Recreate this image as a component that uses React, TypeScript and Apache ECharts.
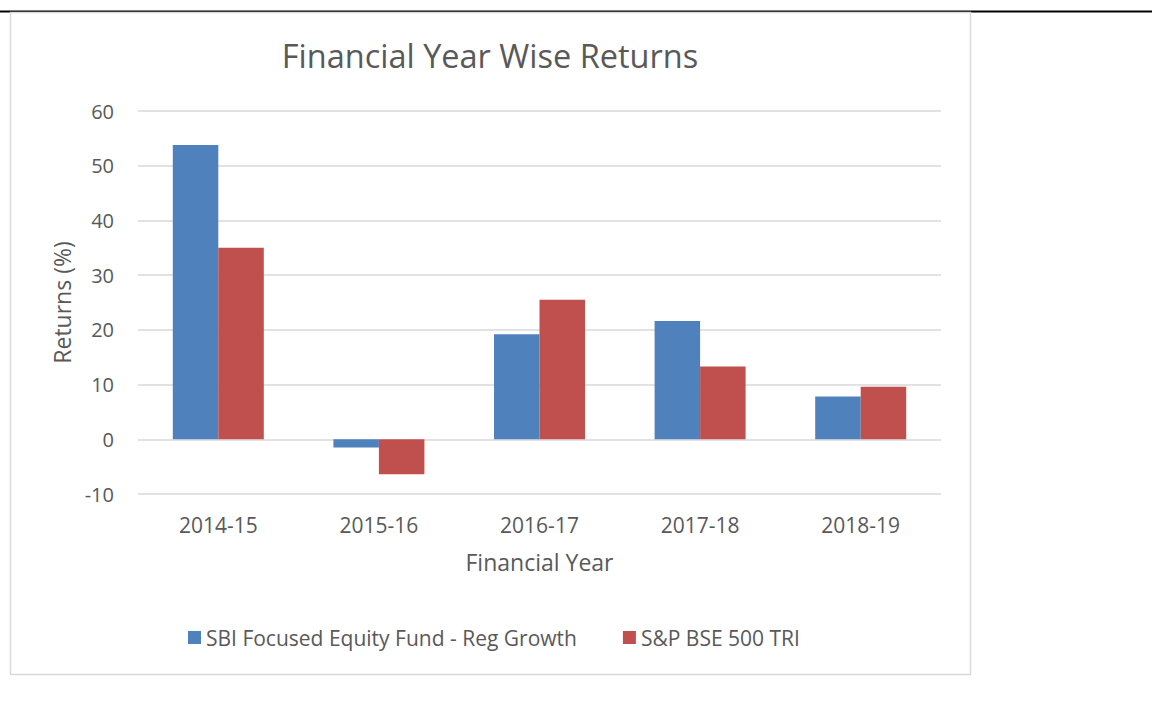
import React, { useEffect, useRef } from "react";
import * as echarts from "echarts";

const categories = ["2014-15", "2015-16", "2016-17", "2017-18", "2018-19"];
const fundName = "SBI Focused Equity Fund - Reg Growth";
const indexName = "S&P BSE 500 TRI";
const fundReturns = [53.8, -1.5, 19.2, 21.6, 7.8];
const indexReturns = [35.0, -6.4, 25.5, 13.3, 9.6];
const yTicks = { min: -10, max: 60, interval: 10 };

const FONT = "'Open Sans', sans-serif";
const TEXT = "#595959";

export default function App() {
  const ref = useRef<HTMLDivElement>(null);
  useEffect(() => {
    if (!ref.current) return;
    const chart = echarts.init(ref.current, null, { renderer: "svg" });
    chart.setOption({
      animation: false,
      backgroundColor: "#ffffff",
      textStyle: { fontFamily: FONT },
      graphic: [
        { type: "line", z: -10, shape: { x1: 0, y1: 11.5, x2: 1152, y2: 11.5 }, style: { stroke: "#000", lineWidth: 2 } },
        { type: "rect", z: -5, shape: { x: 10.5, y: 12.5, width: 960, height: 662 }, style: { fill: "#fff", stroke: "#d9d9d9", lineWidth: 1.5 } },
      ],
      title: {
        text: "Financial Year Wise Returns",
        left: 485,
        textAlign: "center",
        top: 34,
        textStyle: { fontFamily: FONT, fontSize: 32.5, fontWeight: "normal", color: TEXT },
      },
      legend: {
        left: 183,
        top: 622,
        itemWidth: 13,
        itemHeight: 13,
        itemGap: 46,
        icon: "rect",
        textStyle: { fontFamily: FONT, fontSize: 21, color: TEXT, padding: [0, 0, 0, 0] },
        data: [fundName, indexName],
      },
      grid: { left: 138, top: 111, width: 803, height: 383, containLabel: false },
      xAxis: {
        type: "category",
        data: categories,
        name: "Financial Year",
        nameLocation: "middle",
        nameGap: 56,
        nameTextStyle: { fontFamily: FONT, fontSize: 23, color: TEXT },
        axisLine: { show: false },
        axisTick: { show: false },
        axisLabel: { fontFamily: FONT, fontSize: 21, color: TEXT, margin: 20 },
      },
      yAxis: {
        type: "value",
        min: yTicks.min,
        max: yTicks.max,
        interval: yTicks.interval,
        name: "Returns (%)",
        nameLocation: "middle",
        nameGap: 65,
        nameTextStyle: { fontFamily: FONT, fontSize: 23, color: TEXT },
        axisLine: { show: false },
        axisTick: { show: false },
        axisLabel: { fontFamily: FONT, fontSize: 20, color: TEXT, margin: 24 },
        splitLine: { lineStyle: { color: "#d9d9d9", width: 1.5 } },
      },
      series: [
        {
          name: fundName,
          type: "bar",
          data: fundReturns,
          barWidth: 45.5,
          barGap: "0%",
          itemStyle: { color: "#4f81bd" },
        },
        {
          name: indexName,
          type: "bar",
          data: indexReturns,
          barWidth: 45.5,
          barGap: "0%",
          itemStyle: { color: "#c0504d" },
        },
      ],
    });
    return () => chart.dispose();
  }, []);
  return (
    <div
      ref={ref}
      style={{ position: "absolute", left: 0, top: 0, width: 1152, height: 706 }}
    />
  );
}
